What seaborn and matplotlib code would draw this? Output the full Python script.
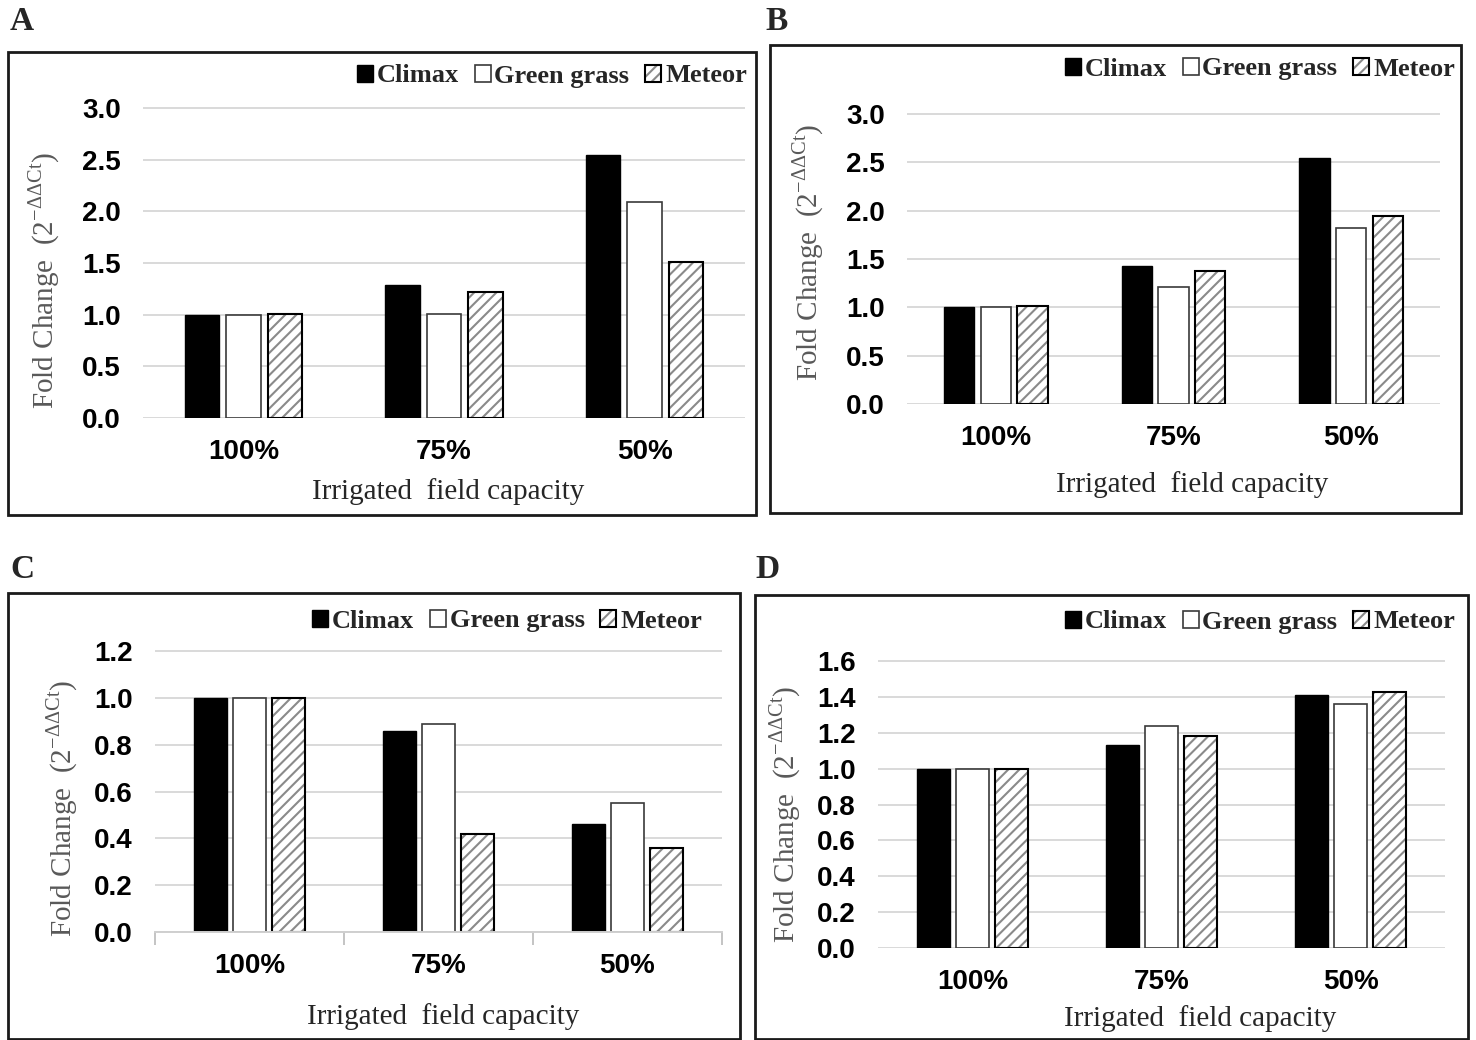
import numpy as np
import pandas as pd
import seaborn as sns
import matplotlib.pyplot as plt
from matplotlib.colors import to_rgba
from matplotlib.patches import Rectangle

# ---- data ----
capacity = ["100%", "75%", "50%"]
cultivars = ["Climax", "Green grass", "Meteor"]

A_climax = [1.00, 1.29, 2.55]
A_green = [1.00, 1.01, 2.09]
A_meteor = [1.01, 1.22, 1.51]

B_climax = [1.00, 1.43, 2.55]
B_green = [1.00, 1.21, 1.82]
B_meteor = [1.01, 1.38, 1.95]

C_climax = [1.00, 0.86, 0.46]
C_green = [1.00, 0.89, 0.55]
C_meteor = [1.00, 0.42, 0.36]

D_climax = [1.00, 1.13, 1.41]
D_green = [1.00, 1.24, 1.36]
D_meteor = [1.00, 1.18, 1.43]

sns.set_style("white")
plt.rcParams["font.family"] = ["Liberation Serif", "DejaVu Serif"]
plt.rcParams["mathtext.fontset"] = "custom"
plt.rcParams["mathtext.rm"] = "Liberation Serif"
plt.rcParams["hatch.linewidth"] = 1.5

W, H = 1476, 1040
fig = plt.figure(figsize=(W / 100, H / 100), dpi=100)


def fpos(l, t, r, b):
    return [l / W, 1 - b / H, (r - l) / W, (b - t) / H]


def long_df(climax, green, meteor):
    rows = []
    for name, vals in zip(cultivars, [climax, green, meteor]):
        for cap, v in zip(capacity, vals):
            rows.append({"capacity": cap, "cultivar": name, "fold": v})
    return pd.DataFrame(rows)


palette = {"Climax": "black", "Green grass": "white", "Meteor": "white"}

# panel settings: axes box, ymax, tick step, legend anchor, label positions, frame, letter
panels = [
    dict(letter="A", data=(A_climax, A_green, A_meteor), ax=(143, 107, 745, 418), ymax=3.0, step=0.5,
         leg=(747, 76), ylab=(62, 280), xlab=(448, 478), box=(8, 52, 756, 515), let=(10, 22), spine=False),
    dict(letter="B", data=(B_climax, B_green, B_meteor), ax=(907, 113, 1440, 404), ymax=3.0, step=0.5,
         leg=(1455, 69), ylab=(826, 252), xlab=(1192, 471), box=(770, 45, 1461, 513), let=(765, 22), spine=False),
    dict(letter="C", data=(C_climax, C_green, C_meteor), ax=(155, 650, 722, 932), ymax=1.2, step=0.2,
         leg=(702, 621), ylab=(80, 808), xlab=(443, 1003), box=(8, 593, 740, 1039), let=(10, 570), spine=True),
    dict(letter="D", data=(D_climax, D_green, D_meteor), ax=(878, 660, 1445, 948), ymax=1.6, step=0.2,
         leg=(1455, 622), ylab=(803, 814), xlab=(1200, 1005), box=(755, 595, 1468, 1039), let=(755, 570), spine=False),
]

for p in panels:
    ax = fig.add_axes(fpos(*p["ax"]))
    df = long_df(*p["data"])
    sns.barplot(data=df, x="capacity", y="fold", hue="cultivar", order=capacity, hue_order=cultivars,
                palette=palette, saturation=1, width=0.62, gap=0.17, legend=False, ax=ax)

    # bar styling per cultivar
    for bar in ax.containers[0]:
        bar.set_edgecolor("black")
        bar.set_linewidth(1.0)
    for bar in ax.containers[1]:
        bar.set_edgecolor("#3a3a3a")
        bar.set_linewidth(1.2)
    for bar in ax.containers[2]:
        bar.set_hatch("///")
        bar.set_edgecolor("black")
        bar.set_linewidth(1.5)
        if hasattr(bar, "set_hatchcolor"):
            bar.set_hatchcolor("#8a8a8a")
        else:
            bar._hatch_color = to_rgba("#8a8a8a")

    ymax, step = p["ymax"], p["step"]
    ax.set_ylim(0, ymax * 1.004)
    ax.set_xlim(-0.5, 2.5)
    ticks = np.round(np.arange(0, ymax + step / 2, step), 2)
    ax.set_yticks(ticks)
    ax.set_yticklabels([f"{t:.1f}" for t in ticks])
    ax.yaxis.grid(True, color="#d9d9d9", linewidth=1.4)
    ax.set_axisbelow(True)
    for s in ["left", "right", "top", "bottom"]:
        ax.spines[s].set_visible(False)

    ax.tick_params(axis="both", which="major", length=0)
    ax.tick_params(axis="y", pad=16)
    ax.tick_params(axis="x", pad=15)
    if p["spine"]:
        # panel C has a visible category axis with separator ticks
        ax.spines["bottom"].set_visible(True)
        ax.spines["bottom"].set_color("#cfcfcf")
        ax.spines["bottom"].set_linewidth(1.4)
        ax.set_xticks([-0.5, 0.5, 1.5, 2.5], minor=True)
        ax.tick_params(axis="x", which="minor", bottom=True, length=9, width=1.3,
                       color="#bfbfbf", direction="out")
    for lab in ax.get_yticklabels() + ax.get_xticklabels():
        lab.set_fontfamily("Liberation Sans")
        lab.set_fontweight("bold")
        lab.set_color("black")
        lab.set_fontsize(20)

    ax.set_ylabel("Fold Change  (2$^{\\mathregular{-ΔΔCt}}$)", fontsize=21, color="#595959")
    ax.yaxis.set_label_coords(p["ylab"][0] / W, 1 - p["ylab"][1] / H, transform=fig.transFigure)
    ax.set_xlabel("Irrigated  field capacity", fontsize=21, color="#262626")
    ax.xaxis.set_label_coords(p["xlab"][0] / W, 1 - p["xlab"][1] / H, transform=fig.transFigure)

    leg = ax.legend(ax.containers, cultivars, loc="center right",
                    bbox_to_anchor=(p["leg"][0] / W, 1 - p["leg"][1] / H), bbox_transform=fig.transFigure,
                    ncol=3, frameon=False, handlelength=0.6, handleheight=0.6, handletextpad=0.15,
                    columnspacing=0.6, borderpad=0, borderaxespad=0,
                    prop={"family": "Liberation Serif", "weight": "bold", "size": 19})

    # frame around each panel and the panel letter
    l, t, r, b = p["box"]
    fig.add_artist(Rectangle((l / W, 1 - b / H), (r - l) / W, (b - t) / H, transform=fig.transFigure,
                             fill=False, edgecolor="#1a1a1a", linewidth=2))
    fig.text(p["let"][0] / W, 1 - p["let"][1] / H, p["letter"], fontsize=24, fontweight="bold",
             ha="left", va="center")

fig.savefig("out.png", dpi=100, facecolor="white")
